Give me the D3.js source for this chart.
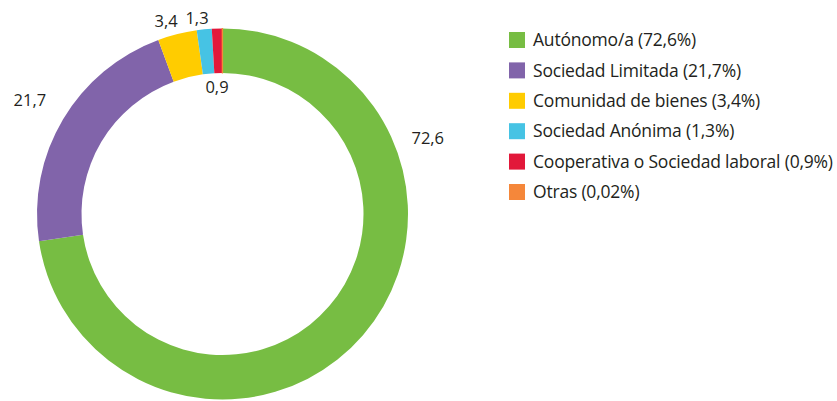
<!DOCTYPE html>
<html><head><meta charset="utf-8">
<script src="https://cdn.jsdelivr.net/npm/d3@7"></script>
<style>body{margin:0;background:#fff}svg{display:block}</style>
</head><body>
<svg id="c" width="837" height="401"></svg>
<script>
const categories = ["Autónomo/a", "Sociedad Limitada", "Comunidad de bienes", "Sociedad Anónima", "Cooperativa o Sociedad laboral", "Otras"];
const values = [72.6, 21.7, 3.4, 1.3, 0.9, 0.02];
const valueLabels = ["72,6", "21,7", "3,4", "1,3", "0,9", ""];
const legendLabels = ["Autónomo/a (72,6%)", "Sociedad Limitada (21,7%)", "Comunidad de bienes (3,4%)", "Sociedad Anónima (1,3%)", "Cooperativa o Sociedad laboral (0,9%)", "Otras (0,02%)"];
const colors = ["#77bd43", "#8164aa", "#ffcc00", "#46c3e4", "#e2183a", "#f5873a"];
// label placement (polar, degrees from top / radius)
const labelAngle = [69.6, null, -16.3, -7.4, -2.5, null];
const labelRadius = [219, 224, 201, 198, 126.6, 0];

const svg = d3.select("#c");
const cx = 222.5, cy = 214, R = 185.5, r = 141;
const g = svg.append("g").attr("transform", `translate(${cx},${cy})`);
const pie = d3.pie().sort(null).value(d => d);
const arcs = pie(values);
const arc = d3.arc().innerRadius(r).outerRadius(R);
g.selectAll("path").data(arcs).join("path")
  .attr("d", arc).attr("fill", (d,i) => colors[i])
  .attr("stroke", (d,i) => i === 5 ? colors[i] : "none")
  .attr("stroke-width", 1.2);

const ang = (d,i) => labelAngle[i] != null ? labelAngle[i]*Math.PI/180 : (d.startAngle+d.endAngle)/2;
g.selectAll("text.v").data(arcs).join("text").attr("class","v")
  .attr("x", (d,i) => labelRadius[i]*Math.sin(ang(d,i)))
  .attr("y", (d,i) => -labelRadius[i]*Math.cos(ang(d,i)))
  .attr("dy","0.357em")
  .attr("text-anchor","middle")
  .attr("font-family","'Open Sans', sans-serif").attr("font-size",16.5).attr("fill","#231f20")
  .text((d,i) => valueLabels[i]);

const leg = svg.append("g").attr("transform","translate(509,32)");
const rows = leg.selectAll("g").data(categories).join("g")
  .attr("transform", (d,i) => `translate(0,${i*30.4})`);
rows.append("rect").attr("width",16).attr("height",16).attr("fill",(d,i)=>colors[i]);
rows.append("text").attr("x",24).attr("y",8).attr("dy","0.357em")
  .attr("font-family","'Open Sans', sans-serif").attr("font-size",17.5).attr("letter-spacing",-0.2).attr("fill","#231f20")
  .text((d,i)=>legendLabels[i]);
</script>
</body></html>
